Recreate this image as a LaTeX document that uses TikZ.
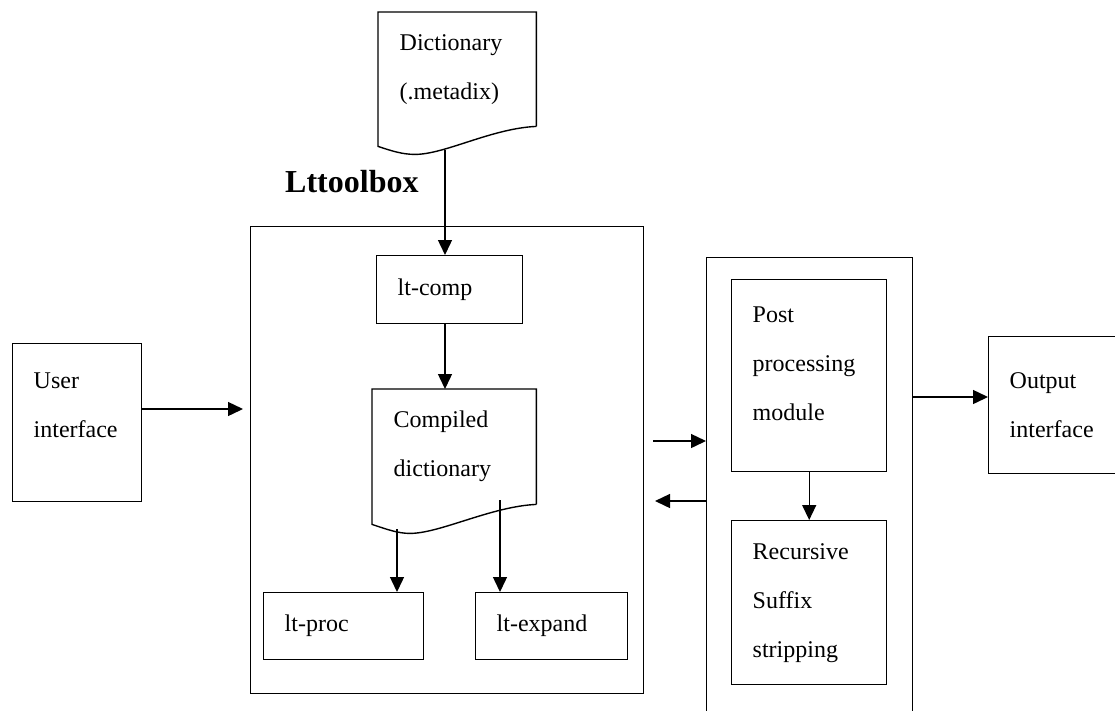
\documentclass[tikz,border=0pt]{standalone}
\usepackage{fontspec}
\setmainfont{Liberation Serif}
\usetikzlibrary{arrows.meta,calc}

\begin{document}
\begin{tikzpicture}[x=1pt,y=-1pt]
\tikzstyle{box}=[draw, line width=1.4pt, anchor=north west, align=left, inner xsep=21pt, inner ysep=0pt, font=\fontsize{24}{49}\selectfont]
\tikzstyle{doc}=[box, draw=none]
\tikzstyle{flow}=[line width=1.4pt, -{Triangle[length=15pt,width=14pt]}]
\useasboundingbox (0,0) rectangle (1115,710);
\clip (0,0) rectangle (1115,710);
% source dictionary
\node[doc, text width=115pt, minimum height=113pt] (dict) at (378,12) {Dictionary\\(.metadix)};
\draw[line width=1.4pt] (dict.south east) -- (dict.north east) -- (dict.north west) -- ($(dict.south west)+(0,20)$)
  .. controls +(15,5) and +(-12,0) .. ($(dict.south west)+(37,28)$)
  .. controls +(30,0) and +(-45,2) .. (dict.south east);
\node[font=\fontsize{32}{38}\bfseries\selectfont, anchor=base west, inner sep=0pt] (title) at (285,192) {Lttoolbox};
% lttoolbox
\node[box, text width=351pt, minimum height=467pt] (ltbox) at (250,226) {};
\node[box, text width=104pt, minimum height=68pt] (ltcomp) at (376,255) {lt-comp};
\node[doc, text width=121pt, minimum height=114pt] (compiled) at (372,389) {Compiled\\dictionary};
\draw[line width=1.4pt] (compiled.south east) -- (compiled.north east) -- (compiled.north west) -- ($(compiled.south west)+(0,20)$)
  .. controls +(15,5) and +(-12,0) .. ($(compiled.south west)+(38,29)$)
  .. controls +(30,0) and +(-45,2) .. (compiled.south east);
\node[box, text width=118pt, minimum height=67pt] (ltproc) at (263,592) {lt-proc};
\node[box, text width=110pt, minimum height=67pt] (ltexpand) at (475,592) {lt-expand};
\node[box, text width=87pt, minimum height=158pt] (ui) at (12,343) {User\\interface\rule[-36pt]{0pt}{0pt}};
% post processing
\node[box, text width=164pt, minimum height=483pt] (postbox) at (706,257) {};
\node[box, text width=113pt, minimum height=192pt] (post) at (731,279) {Post\\processing\\module\rule[-24pt]{0pt}{0pt}};
\node[box, text width=113pt, minimum height=164pt] (rec) at (731,520) {Recursive\\Suffix\\stripping};
\node[box, text width=100pt, minimum height=137pt] (out) at (988,336) {Output\\interface};
% arrows
\coordinate (dictout) at (445,150);
\coordinate (cdleft) at (397,529);
\coordinate (cdright) at (500,500);
\coordinate (uiout) at (0,409);
\coordinate (toright) at (653,441);
\coordinate (toleft) at (655,501);
\coordinate (outin) at (0,397);
\draw[flow] (dictout) -- (dictout |- ltcomp.north);
\draw[flow] (ltcomp.south -| dictout) -- (dictout |- compiled.north);
\draw[flow] (cdleft) -- (cdleft |- ltproc.north);
\draw[flow] (cdright) -- (cdright |- ltexpand.north);
\draw[flow, shorten >=7pt] (ui.east |- uiout) -- (ltbox.west |- uiout);
\draw[flow] (toright) -- (toright -| postbox.west);
\draw[flow] (toleft -| postbox.west) -- (toleft);
\draw[flow] (post.south) -- (rec.north);
\draw[flow] (postbox.east |- outin) -- (out.west |- outin);
\end{tikzpicture}
\end{document}
